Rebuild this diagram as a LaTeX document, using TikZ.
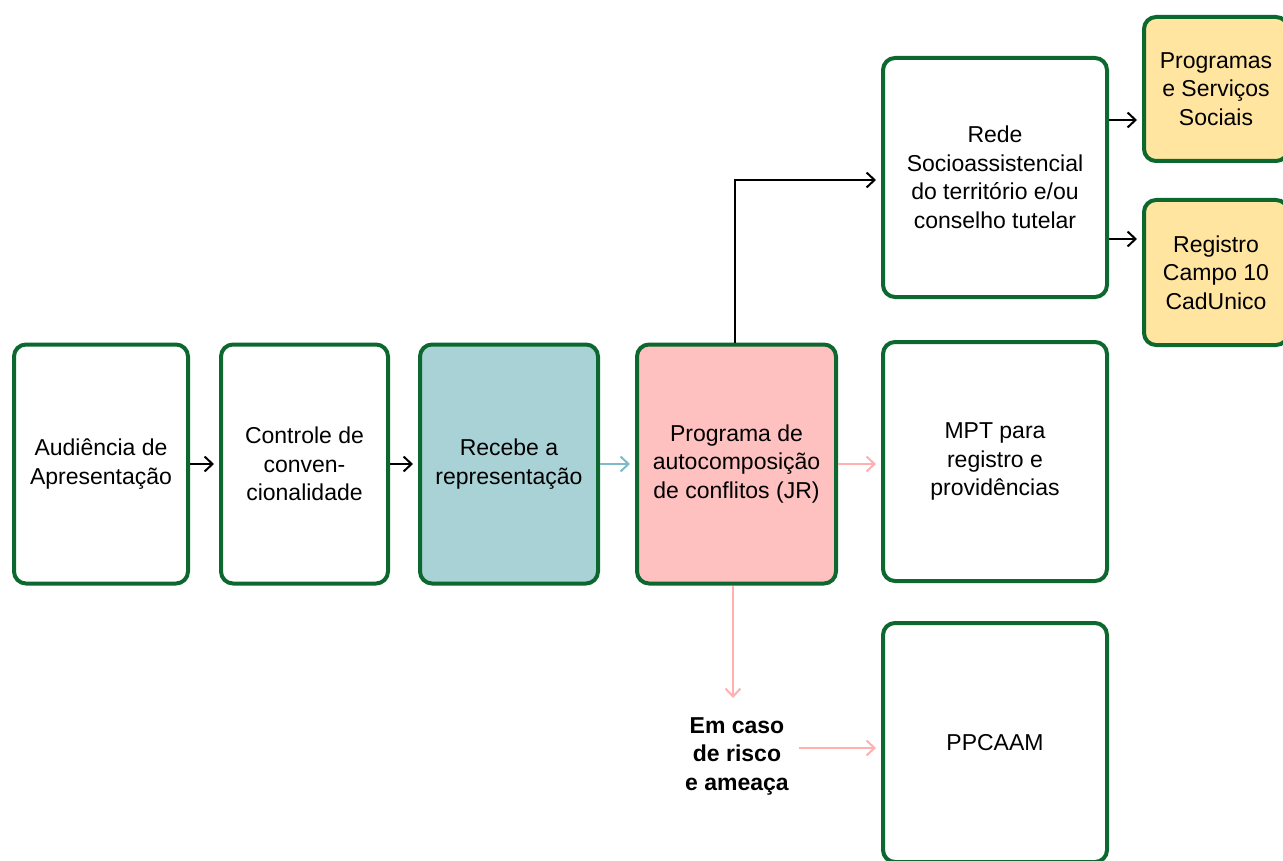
\documentclass[tikz,border=0pt]{standalone}
\usepackage{fontspec}
\setmainfont{Liberation Sans}
\usetikzlibrary{arrows.meta}

\definecolor{verdeborda}{RGB}{12,104,46}
\definecolor{azulfundo}{RGB}{168,210,214}
\definecolor{rosafundo}{RGB}{255,192,192}
\definecolor{amarelofundo}{RGB}{255,229,160}
\definecolor{azulseta}{RGB}{126,186,200}
\definecolor{rosaseta}{RGB}{255,176,176}

\tikzset{
  etapa/.style={draw=verdeborda, line width=4pt, rounded corners=12pt, fill=white,
    align=center, inner sep=0pt, font=\fontsize{23}{28.5}\selectfont},
  seta/.style={-{Straight Barb[length=8pt,width=15pt]}, line width=2pt, black, shorten >=5pt},
}

\begin{document}
\begin{tikzpicture}[x=1pt, y=-1pt]
  \useasboundingbox (0,0) rectangle (1283,861);
  \clip (0,0) rectangle (1283,861);

  % fluxo principal
  \node[etapa, minimum width=174, minimum height=239] (audiencia) at (101,464) {Audiência de\\Apresentação};
  \node[etapa, minimum width=167, minimum height=239] (controle) at (304.5,464) {Controle de\\conven-\\cionalidade};
  \node[etapa, minimum width=178, minimum height=239, fill=azulfundo] (recebe) at (509,464) {Recebe a\\representação};
  \node[etapa, minimum width=199, minimum height=239, fill=rosafundo] (programa) at (736.5,464) {Programa de\\autocomposição\\de conflitos (JR)};

  % encaminhamentos
  \node[etapa, minimum width=224, minimum height=239] (rede) at (995,177.5) {Rede\\Socioassistencial\\do território e/ou\\conselho tutelar};
  \node[etapa, minimum width=224, minimum height=239] (mpt) at (995,461.5) {MPT para\\registro e\\providências};
  \node[etapa, minimum width=224, minimum height=239] (ppcaam) at (995,742.5) {PPCAAM};
  \node[etapa, minimum width=144, minimum height=144, fill=amarelofundo] (servicos) at (1216,89) {Programas\\e Serviços\\Sociais};
  \node[etapa, minimum width=144, minimum height=145, fill=amarelofundo] (cadunico) at (1216,272.5) {Registro\\Campo 10\\CadUnico};

  \node[align=center, inner sep=0pt, font=\fontsize{23}{28.5}\selectfont\bfseries] (risco) at (737,756) {Em caso\\de risco\\e ameaça};

  \coordinate (nivelrede) at (0,180);
  \coordinate (nivelservicos) at (0,120);
  \coordinate (nivelcadunico) at (0,239);
  \coordinate (nivelrisco) at (0,748);
  \coordinate (fimrisco) at (698,698);

  % conectores
  \draw[seta] (audiencia.east) -- (controle.west);
  \draw[seta] (controle.east) -- (recebe.west);
  \draw[seta, azulseta] (recebe.east) -- (programa.west);
  \draw[seta, rosaseta] (programa.east) -- (mpt.west |- programa.east);
  \draw[seta] ([xshift=-1.5]programa.north) |- (rede.west |- nivelrede);
  \draw[seta] (rede.east |- nivelservicos) -- (servicos.west |- nivelservicos);
  \draw[seta] (rede.east |- nivelcadunico) -- (cadunico.west |- nivelcadunico);
  \draw[seta, rosaseta, shorten >=0pt] ([xshift=-3.5]programa.south) -- ([xshift=-3.5]programa.south |- fimrisco);
  \draw[seta, rosaseta] ([xshift=10]risco.east |- nivelrisco) -- (ppcaam.west |- nivelrisco);
\end{tikzpicture}
\end{document}
